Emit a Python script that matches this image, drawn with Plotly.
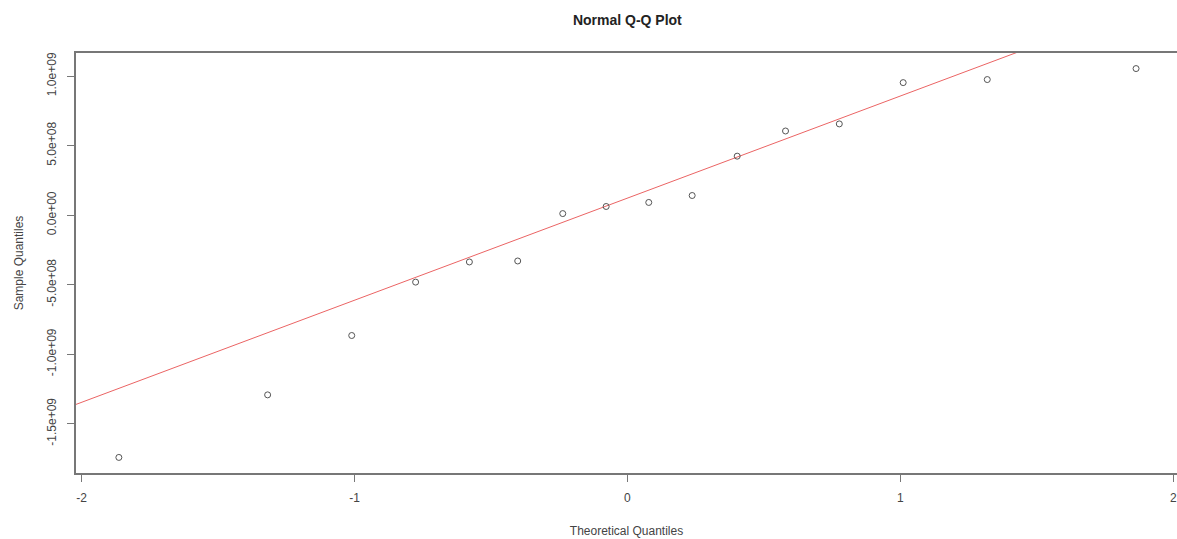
import numpy as np
import plotly.graph_objects as go

# Theoretical quantiles (x) and sample quantiles (y)
theoretical = [-1.863, -1.318, -1.010, -0.776, -0.579, -0.402, -0.237, -0.078,
               0.078, 0.237, 0.402, 0.579, 0.776, 1.010, 1.318, 1.863]
sample = [-1.743e9, -1.293e9, -0.866e9, -0.482e9, -0.337e9, -0.330e9, 0.011e9, 0.062e9,
          0.091e9, 0.141e9, 0.424e9, 0.605e9, 0.656e9, 0.953e9, 0.975e9, 1.054e9]

x_ticks = [-2, -1, 0, 1, 2]
x_tick_labels = ["-2", "-1", "0", "1", "2"]
y_ticks = [-1.5e9, -1.0e9, -0.5e9, 0.0, 0.5e9, 1.0e9]
y_tick_labels = ["-1.5e+09", "-1.0e+09", "-5.0e+08", "0.0e+00", "5.0e+08", "1.0e+09"]

# qqline: through the first and third quartiles
q_y = np.quantile(sample, [0.25, 0.75])
q_x = np.array([-0.6744898, 0.6744898])
slope = (q_y[1] - q_y[0]) / (q_x[1] - q_x[0])
intercept = q_y[0] - slope * q_x[0]
line_x = np.array([-2.5, 2.5])
line_y = intercept + slope * line_x

FONT = "Liberation Sans, Arial, sans-serif"
AX = "#777777"

fig = go.Figure()
fig.add_trace(go.Scatter(
    x=line_x, y=line_y, mode="lines",
    line=dict(color="rgb(235,100,100)", width=1),
    hoverinfo="skip", showlegend=False))
fig.add_trace(go.Scatter(
    x=theoretical, y=sample, mode="markers",
    marker=dict(symbol="circle-open", size=6, color="#555555", line=dict(width=1)),
    showlegend=False))

fig.update_layout(
    width=1177, height=539,
    margin=dict(l=76, r=0, t=53, b=66),
    paper_bgcolor="white", plot_bgcolor="white",
    font=dict(family=FONT, size=12, color="#333333"),
    title=dict(text="<b>Normal Q-Q Plot</b>", x=0.533, xanchor="center",
               y=1 - 20 / 539, yanchor="middle",
               font=dict(family=FONT, size=14, color="#222222")),
    xaxis=dict(range=[-2.02, 2.013], tickvals=x_ticks, ticktext=x_tick_labels,
               showgrid=False, zeroline=False, showline=True, mirror=True,
               linecolor=AX, linewidth=1.5, ticks="outside", ticklen=7,
               tickcolor=AX, tickfont=dict(size=12, color="#444444"),
               ticklabelstandoff=6, ticklabeloverflow="allow",
               title=dict(text="Theoretical Quantiles", standoff=22,
                          font=dict(size=12, color="#444444"))),
    yaxis=dict(range=[-1.855e9, 1.166e9], tickvals=y_ticks, ticktext=y_tick_labels,
               tickangle=-90,
               showgrid=False, zeroline=False, showline=True, mirror=False,
               linecolor=AX, linewidth=1.5, ticks="outside", ticklen=7,
               tickcolor=AX, tickfont=dict(size=12, color="#444444"),
               ticklabelstandoff=6,
               title=dict(text="Sample Quantiles", standoff=19,
                          font=dict(size=12, color="#444444"))),
)

fig.write_html("out.html")
